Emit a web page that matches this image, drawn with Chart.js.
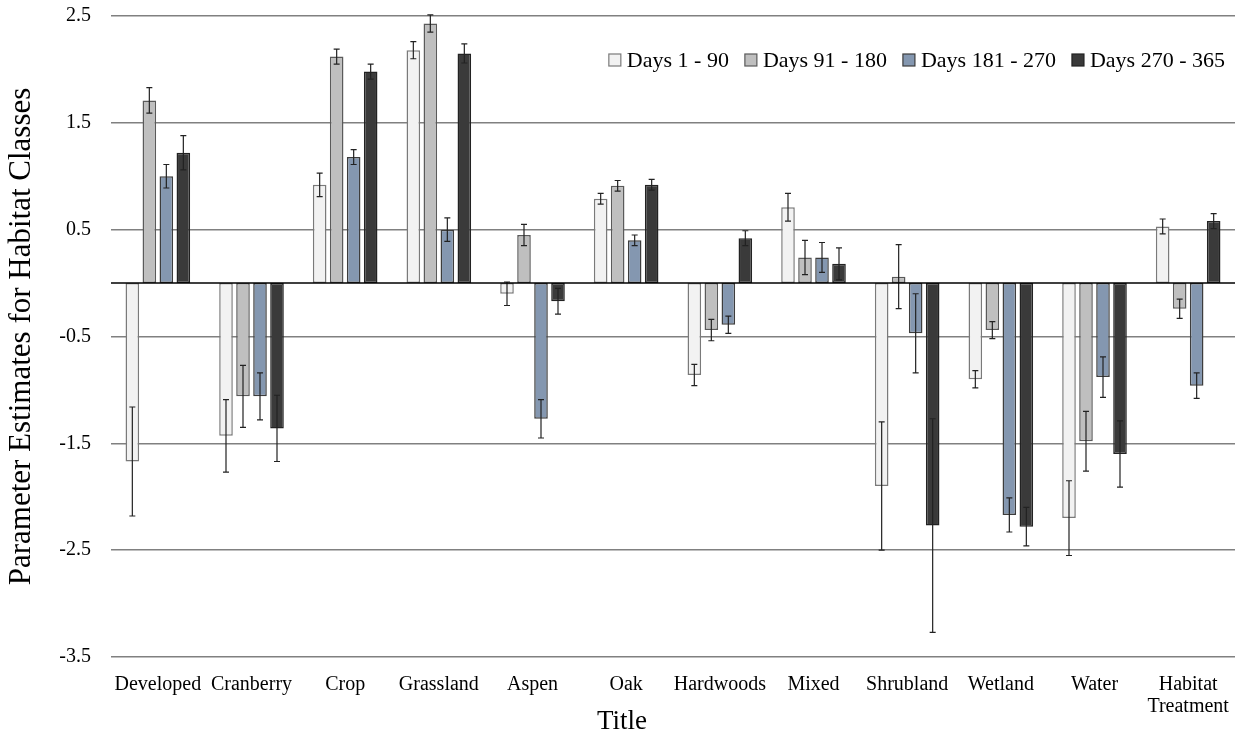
<!DOCTYPE html>
<html>
<head>
<meta charset="utf-8">
<script src="https://cdn.jsdelivr.net/npm/chart.js@4.4.1/dist/chart.umd.min.js"></script>
<style>
  html, body { margin: 0; padding: 0; background: #fff; }
  #wrap { width: 1244px; height: 742px; }
</style>
</head>
<body>
<div id="wrap"><canvas id="graph" width="1244" height="742"></canvas></div>
<script>
// Habitat classes along the x axis
const categories = ['Developed', 'Cranberry', 'Crop', 'Grassland', 'Aspen', 'Oak',
  'Hardwoods', 'Mixed', 'Shrubland', 'Wetland', 'Water', ['Habitat', 'Treatment']];

// Parameter estimates per season
const days1to90    = [-1.67, -1.43, 0.92, 2.18, -0.10, 0.79, -0.86, 0.71, -1.90, -0.90, -2.20, 0.53];
const days91to180  = [1.71, -1.06, 2.12, 2.43, 0.45, 0.91, -0.44, 0.24, 0.06, -0.44, -1.48, -0.24];
const days181to270 = [1.00, -1.06, 1.18, 0.50, -1.27, 0.40, -0.39, 0.24, -0.47, -2.17, -0.88, -0.96];
const days270to365 = [1.22, -1.36, 1.98, 2.15, -0.17, 0.92, 0.42, 0.18, -2.27, -2.28, -1.60, 0.58];

// Standard errors (symmetric whiskers)
const err1to90    = [0.51, 0.34, 0.11, 0.08, 0.11, 0.05, 0.10, 0.13, 0.60, 0.08, 0.35, 0.07];
const err91to180  = [0.12, 0.29, 0.07, 0.08, 0.10, 0.05, 0.10, 0.16, 0.30, 0.08, 0.28, 0.09];
const err181to270 = [0.11, 0.22, 0.07, 0.11, 0.18, 0.05, 0.08, 0.14, 0.37, 0.16, 0.19, 0.12];
const err270to365 = [0.16, 0.31, 0.07, 0.09, 0.12, 0.05, 0.07, 0.15, 1.00, 0.18, 0.31, 0.07];

const yTicks = [-3.5, -2.5, -1.5, -0.5, 0.5, 1.5, 2.5];

const SERIES = [
  { label: 'Days 1 - 90',    data: days1to90,    err: err1to90,    fill: '#f2f2f2', line: '#7a7a7a' },
  { label: 'Days 91 - 180',  data: days91to180,  err: err91to180,  fill: '#bfbfbf', line: '#5a5a5a' },
  { label: 'Days 181 - 270', data: days181to270, err: err181to270, fill: '#8497b0', line: '#3d3d3d' },
  { label: 'Days 270 - 365', data: days270to365, err: err270to365, fill: '#3a3a3a', line: '#222222' },
];

const FONT = "'Liberation Serif', 'Times New Roman', serif";

// Whiskers drawn through the value scale for every bar, plus the zero line
const errorBars = {
  id: 'errorBars',
  afterDatasetsDraw(chart) {
    const ctx = chart.ctx;
    const y = chart.scales.y;
    ctx.save();
    ctx.strokeStyle = '#222';
    ctx.lineWidth = 1.2;
    chart.data.datasets.forEach((ds, i) => {
      chart.getDatasetMeta(i).data.forEach((bar, j) => {
        const v = ds.data[j], e = ds.err[j];
        const hi = y.getPixelForValue(v + e);
        const lo = y.getPixelForValue(v - e);
        ctx.beginPath();
        ctx.moveTo(bar.x, hi); ctx.lineTo(bar.x, lo);
        ctx.moveTo(bar.x - 3, hi); ctx.lineTo(bar.x + 3, hi);
        ctx.moveTo(bar.x - 3, lo); ctx.lineTo(bar.x + 3, lo);
        ctx.stroke();
      });
    });
    const z = y.getPixelForValue(0);
    ctx.strokeStyle = '#000';
    ctx.lineWidth = 1.5;
    ctx.beginPath();
    ctx.moveTo(chart.chartArea.left, z);
    ctx.lineTo(chart.chartArea.right, z);
    ctx.stroke();
    ctx.restore();
  }
};

// Legend inside the plot (top right) and the x axis title centred on the canvas
const overlayText = {
  id: 'overlayText',
  afterDraw(chart) {
    const ctx = chart.ctx;
    const box = 12, gapText = 6, gapItem = 16;
    const right = chart.chartArea.right - 10, cy = chart.chartArea.top + 44;
    ctx.save();
    ctx.font = `22px ${FONT}`;
    ctx.textBaseline = 'middle';
    const items = chart.data.datasets.map(ds => ({ ds, w: ctx.measureText(ds.label).width }));
    const total = items.reduce((s, it) => s + box + gapText + it.w, 0) + gapItem * (items.length - 1);
    let x = right - total;
    items.forEach(({ ds, w }) => {
      ctx.fillStyle = ds.backgroundColor;
      ctx.fillRect(x, cy - box / 2, box, box);
      ctx.strokeStyle = ds.borderColor;
      ctx.lineWidth = 1.2;
      ctx.strokeRect(x, cy - box / 2, box, box);
      ctx.fillStyle = '#000';
      ctx.fillText(ds.label, x + box + gapText, cy + 1);
      x += box + gapText + w + gapItem;
    });

    ctx.font = `27px ${FONT}`;
    ctx.textAlign = 'center';
    ctx.fillText('Title', chart.width / 2, 722);
    ctx.restore();
  }
};

const ctx = document.getElementById('graph').getContext('2d');
new Chart(ctx, {
  type: 'bar',
  data: {
    labels: categories,
    datasets: SERIES.map(s => ({
      label: s.label,
      data: s.data,
      err: s.err,
      backgroundColor: s.fill,
      borderColor: s.line,
      borderWidth: 1.5,
      borderSkipped: false,
      categoryPercentage: 0.726,
      barPercentage: 0.8,
    })),
  },
  options: {
    responsive: false,
    animation: false,
    layout: { padding: { top: 16, right: 9, left: 0, bottom: 0 } },
    plugins: {
      legend: { display: false },
      tooltip: { enabled: false },
    },
    scales: {
      x: {
        grid: { display: false },
        border: { display: false },
        ticks: {
          color: '#000',
          font: { family: FONT, size: 20, lineHeight: 1.1 },
          padding: 9,
          maxRotation: 0,
          autoSkip: false,
        },
        afterFit(scale) { scale.height = 85; },
      },
      y: {
        min: -3.5,
        max: 2.5,
        afterBuildTicks(scale) { scale.ticks = yTicks.map(v => ({ value: v })); },
        // invisible tick marks keep the labels clear of the plot
        grid: { color: '#808080', lineWidth: 1.5, drawTicks: true, tickLength: 20, tickColor: 'rgba(0,0,0,0)' },
        border: { display: false },
        ticks: {
          color: '#000',
          font: { family: FONT, size: 20 },
          padding: 0,
          callback: v => v.toFixed(1),
        },
        title: {
          display: true,
          text: 'Parameter Estimates for Habitat Classes',
          color: '#000',
          font: { family: FONT, size: 31, weight: 'normal' },
          padding: { top: 3, bottom: 0 },
        },
        afterFit(scale) { scale.width = 111; },
      },
    },
  },
  plugins: [errorBars, overlayText],
});
</script>
</body>
</html>
